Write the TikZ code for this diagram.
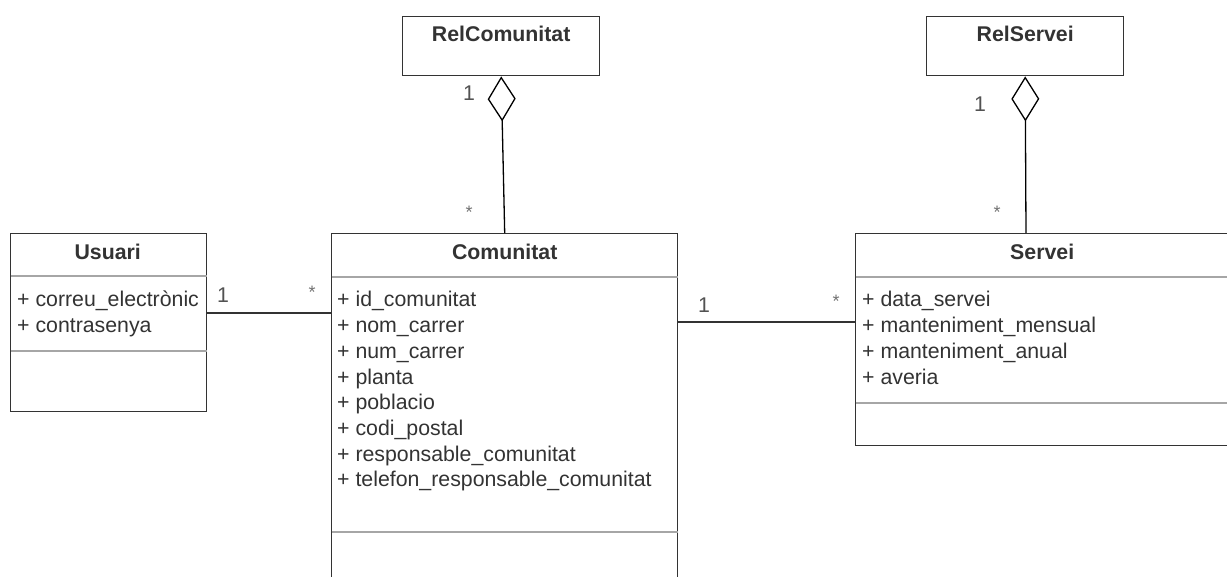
\documentclass[tikz,border=0pt]{standalone}
\usepackage{fontspec}
\setmainfont{Liberation Sans}
\usetikzlibrary{arrows.meta,calc}
\definecolor{ink}{HTML}{333333}
\definecolor{rule}{HTML}{A6A6A6}
\begin{document}
\begin{tikzpicture}[x=1pt,y=-1pt,
  classbox/.style={draw=ink, line width=1.4pt, rectangle, inner sep=0pt,
                   anchor=north west, fill=white},
  sep/.style={draw=rule, line width=1.2pt},
  title/.style={font=\fontsize{21.3}{25.7}\selectfont\bfseries, text=ink,
                anchor=base, inner sep=0pt},
  attr/.style={font=\fontsize{21.3}{25.7}\selectfont, text=ink,
               anchor=base west, inner sep=0pt},
  mult/.style={font=\fontsize{21.3}{25.7}\selectfont, text=ink!85,
               inner sep=0pt},
  many/.style={font=\fontsize{18}{20}\selectfont, text=gray!90!black, inner sep=0pt},
  assoc/.style={draw=ink, line width=1.5pt},
  aggr/.style={draw=black, line width=1.3pt,
               {Diamond[open, length=45pt, width=28pt, line width=1.3pt]}-},
]
\clip (0,0) rectangle (1227,577);
\fill[white] (0,0) rectangle (1227,577);

% class boxes
\node[classbox, minimum width=196pt, minimum height=178pt] (usr)  at (10,233)  {};
\node[classbox, minimum width=346pt, minimum height=370pt] (com)  at (331,233) {};
\node[classbox, minimum width=374pt, minimum height=212pt] (serv) at (855,233) {};
\node[classbox, minimum width=197pt, minimum height=59pt]  (relc) at (402,16)  {};
\node[classbox, minimum width=197pt, minimum height=59pt]  (rels) at (926,16)  {};

% compartment separators
\draw[sep] ($(usr.north west)+(0.7,43)$)  -- ($(usr.north east)+(-0.7,43)$);
\draw[sep] ($(usr.north west)+(0.7,118)$) -- ($(usr.north east)+(-0.7,118)$);
\draw[sep] ($(com.north west)+(0.7,44)$)  -- ($(com.north east)+(-0.7,44)$);
\draw[sep] ($(com.north west)+(0.7,299)$) -- ($(com.north east)+(-0.7,299)$);
\draw[sep] ($(serv.north west)+(0.7,44)$)  -- ($(serv.north east)+(-0.7,44)$);
\draw[sep] ($(serv.north west)+(0.7,170)$) -- ($(serv.north east)+(-0.7,170)$);

% titles
\node[title] (usr-t)  at ($(usr.north)+(-1,27)$)  {Usuari};
\node[title] (com-t)  at ($(com.north)+(0,27)$)   {Comunitat};
\node[title] (serv-t) at ($(serv.north)+(-0.5,27)$) {Servei};
\node[title] (relc-t) at ($(relc.north)+(0,26)$)  {RelComunitat};
\node[title] (rels-t) at ($(rels.north)+(0,26)$)  {RelServei};

% attributes
\foreach \t [count=\i] in {+ correu\_electrònic, + contrasenya}
  \node[attr] (usr-a\i) at ($(usr.north west)+(7,74+25.7*\i-25.7)$) {\t};
\foreach \t [count=\i] in {+ id\_comunitat, + nom\_carrer, + num\_carrer, + planta,
    + poblacio, + codi\_postal, + responsable\_comunitat,
    + telefon\_responsable\_comunitat}
  \node[attr] (com-a\i) at ($(com.north west)+(6,74+25.7*\i-25.7)$) {\t};
\foreach \t [count=\i] in {+ data\_servei, + manteniment\_mensual,
    + manteniment\_anual, + averia}
  \node[attr] (serv-a\i) at ($(serv.north west)+(7,74+25.7*\i-25.7)$) {\t};

% associations
\draw[assoc] ($(usr.north east)+(0,80)$) -- ($(com.north west)+(0,80)$);
\draw[assoc] ($(com.north east)+(0,89)$) -- ($(serv.north west)+(0,89)$);
\coordinate (servtop) at ($(serv.north west)+(171,0)$);
\draw[aggr] (relc.south) -- (com.north);
\draw[aggr] (rels.south) -- (servtop);

% multiplicities
\node[mult] (m1) at (223,295) {1};
\node[many] (m2) at (312,292) {*};
\node[mult] (m3) at (704,305) {1};
\node[many] (m4) at (836,301) {*};
\node[mult] (m5) at (469,93)  {1};
\node[many] (m6) at (469,212) {*};
\node[mult] (m7) at (980,104) {1};
\node[many] (m8) at (997,212) {*};
\end{tikzpicture}
\end{document}
